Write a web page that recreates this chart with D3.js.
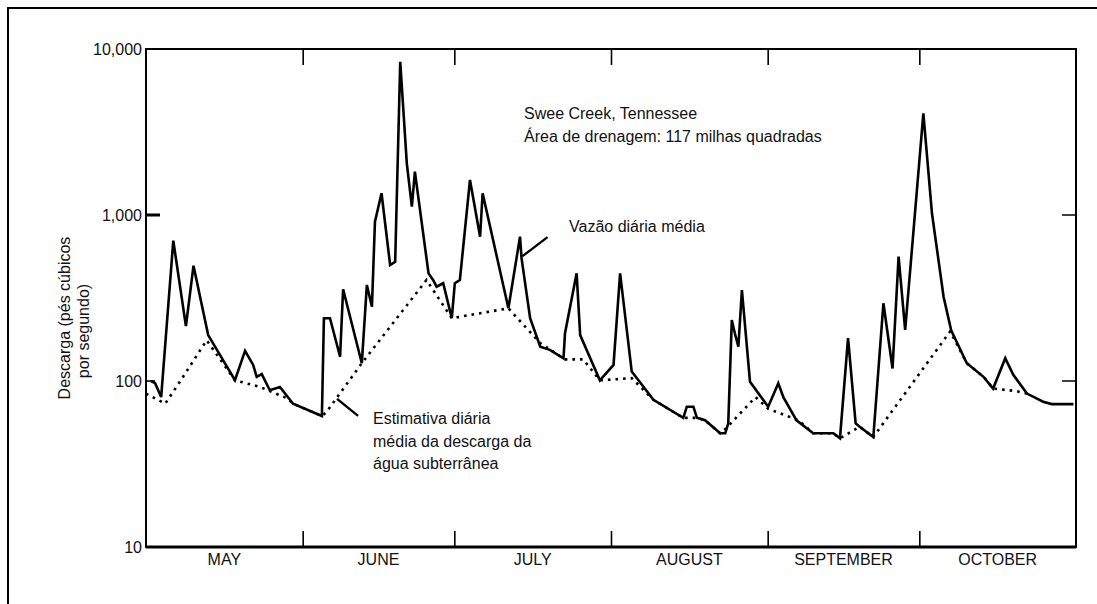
<!DOCTYPE html>
<html>
<head>
<meta charset="utf-8">
<script src="https://cdn.jsdelivr.net/npm/d3@7"></script>
<style>
  body { margin: 0; background: #fff; }
  text { font-family: "Liberation Sans", Arial, sans-serif; fill: #111; }
</style>
</head>
<body>
<script>
const width = 1097;
const height = 604;

// Daily mean streamflow (days after 1 May, cubic feet per second)
const flowDay = [1.0, 1.8, 3.0, 5.4, 7.9, 9.4, 12.3, 17.6, 19.6, 21.2, 21.9, 22.9, 24.5, 26.5, 29.1,
  34.8, 35.2, 36.4, 38.4, 39.0, 42.7, 43.7, 44.7, 45.3, 46.6, 48.3, 49.3, 50.3, 51.6, 52.6, 53.2,
  55.9, 56.8, 57.5, 58.8, 60.5, 61.1, 62.1, 64.1, 66.1, 66.6, 71.7, 74.0, 74.3, 76.0, 78.0, 79.9,
  82.6, 82.9, 85.2, 85.9, 89.8, 92.5, 93.8, 96.1, 100.4, 106.3, 107.0, 108.3, 109.0, 110.6, 113.6,
  114.6, 115.2, 115.9, 116.5, 117.2, 117.9, 119.5, 123.1, 125.1, 126.1, 128.7, 132.0, 136.0, 137.3,
  138.9, 140.4, 141.2, 143.9, 145.9, 147.7, 148.9, 150.2, 153.8, 155.5, 157.8, 159.3, 162.4, 165.7,
  167.6, 170.0, 171.6, 174.3, 177.5, 179.2, 183.5];
const flowCfs = [100, 97, 80, 700, 214, 495, 189, 101, 152, 125, 106, 110, 88, 92, 73,
  61.5, 239, 239, 140, 357, 128, 379, 280, 912, 1352, 500, 523, 8380, 2047, 1122, 1823,
  445, 406, 370, 388, 239, 388, 406, 1625, 740, 1352, 274, 740, 550, 239, 161, 154,
  137, 194, 445, 189, 101, 125, 445, 114, 77, 60, 70, 70, 60, 58, 48.4,
  48.4, 55.6, 233, 194, 161, 353, 99, 70, 97, 80, 58, 48.4, 48.4, 45.2,
  181, 55.6, 53, 46, 294, 119, 561, 203, 4100, 1024, 322, 202, 128, 106,
  90, 137, 109, 84, 75, 72.6, 72.6];

// Estimated daily mean ground-water discharge
const baseDay = [0, 3.8, 6.7, 12.0, 17.6, 22.6, 27.8, 29.1, 34.8, 35.7, 42.7, 55.5, 60.5, 71.7,
  78.0, 82.9, 86.5, 89.8, 96.1, 100.4, 106.3, 109.0, 110.6, 113.6, 114.8, 120.6, 123.1, 129.1,
  132.0, 136.0, 137.3, 141.2, 143.9, 159.1, 162.4, 165.7, 167.6, 172.1, 174.3];
const baseCfs = [84, 73, 99, 176, 101, 92, 79, 73, 61.5, 65, 128, 406, 239, 274,
  169, 135, 135, 101, 104, 77, 60, 60, 58, 48.4, 52, 80, 68, 58,
  48.4, 48.4, 45.2, 53, 46, 199, 128, 106, 90, 87, 84];

const monthNames = ["MAY", "JUNE", "JULY", "AUGUST", "SEPTEMBER", "OCTOBER"];
const yTicks = [10, 100, 1000, 10000];

const start = new Date(Date.UTC(1990, 4, 1));
const end = new Date(Date.UTC(1990, 10, 1));
const toDate = d => new Date(start.getTime() + d * 864e5);

const svg = d3.select("body").append("svg")
  .attr("width", width)
  .attr("height", height);

// outer frame (right and bottom edges lie outside the picture)
svg.append("path")
  .attr("d", `M8,${height} V8 H${width}`)
  .attr("fill", "none").attr("stroke", "#000").attr("stroke-width", 2);

const x = d3.scaleUtc().domain([start, end]).range([146, 1076]);
const y = d3.scaleLog().domain([10, 10000]).range([547, 49]);

const monthStarts = d3.utcMonth.range(start, d3.utcDay.offset(end, 1));
const inner = monthStarts.slice(1, -1);

// plot box
svg.append("rect")
  .attr("x", x.range()[0]).attr("y", y.range()[1])
  .attr("width", x.range()[1] - x.range()[0])
  .attr("height", y.range()[0] - y.range()[1])
  .attr("fill", "none").attr("stroke", "#000").attr("stroke-width", 2);
svg.append("line")
  .attr("x1", x.range()[0]).attr("x2", x.range()[1])
  .attr("y1", y(10)).attr("y2", y(10))
  .attr("stroke", "#000").attr("stroke-width", 3.2);

// month ticks, bottom (upward) and top (downward)
const bottomAxis = svg.append("g")
  .attr("transform", `translate(0,${y(10)})`)
  .call(d3.axisBottom(x).tickValues(inner).tickSize(-16).tickFormat(""));
const topAxis = svg.append("g")
  .attr("transform", `translate(0,${y(10000)})`)
  .call(d3.axisTop(x).tickValues(inner).tickSize(-16).tickFormat(""));
[bottomAxis, topAxis].forEach(g => {
  g.select(".domain").remove();
  g.selectAll(".tick line").attr("stroke", "#000").attr("stroke-width", 1.6);
});

// month labels centred in each month
svg.append("g").selectAll("text")
  .data(monthNames)
  .join("text")
  .attr("x", (d, i) => (x(monthStarts[i]) + x(monthStarts[i + 1])) / 2)
  .attr("y", 565)
  .attr("text-anchor", "middle")
  .attr("font-size", 16)
  .text(d => d);

// y tick labels
svg.append("g").selectAll("text")
  .data(yTicks)
  .join("text")
  .attr("x", 142)
  .attr("y", d => y(d))
  .attr("dy", "0.36em")
  .attr("text-anchor", "end")
  .attr("font-size", 16)
  .text(d => d3.format(",")(d));

// inner ticks at 100 and 1,000
svg.append("line")
  .attr("x1", 146).attr("x2", 160).attr("y1", y(1000)).attr("y2", y(1000))
  .attr("stroke", "#000").attr("stroke-width", 3);
svg.append("line")
  .attr("x1", 146).attr("x2", 155).attr("y1", y(100)).attr("y2", y(100))
  .attr("stroke", "#000").attr("stroke-width", 1.6);
svg.append("g").selectAll("line")
  .data([100, 1000])
  .join("line")
  .attr("x1", 1062).attr("x2", 1076)
  .attr("y1", d => y(d)).attr("y2", d => y(d))
  .attr("stroke", "#000").attr("stroke-width", 1.5);

// y axis title
const yTitle = svg.append("g");
yTitle.append("text")
  .attr("transform", "translate(70,318) rotate(-90)")
  .attr("text-anchor", "middle").attr("font-size", 16)
  .text("Descarga (pés cúbicos");
yTitle.append("text")
  .attr("transform", "translate(89,331) rotate(-90)")
  .attr("text-anchor", "middle").attr("font-size", 16)
  .text("por segundo)");

// series
const line = d3.line()
  .x(d => x(toDate(d[0])))
  .y(d => y(d[1]));

svg.append("path")
  .datum(d3.zip(baseDay, baseCfs))
  .attr("d", line)
  .attr("fill", "none")
  .attr("stroke", "#000")
  .attr("stroke-width", 2.6)
  .attr("stroke-dasharray", "2.6,5");

svg.append("path")
  .datum(d3.zip(flowDay, flowCfs))
  .attr("d", line)
  .attr("fill", "none")
  .attr("stroke", "#000")
  .attr("stroke-width", 2.6)
  .attr("stroke-linejoin", "miter");

// annotations
svg.append("text").attr("x", 524).attr("y", 119).attr("font-size", 16)
  .text("Swee Creek, Tennessee");
svg.append("text").attr("x", 524).attr("y", 142).attr("font-size", 16)
  .text("Área de drenagem: 117 milhas quadradas");

const vx = x(toDate(74.3)), vy = y(550);
svg.append("line")
  .attr("x1", vx + 1).attr("y1", vy - 2).attr("x2", vx + 26).attr("y2", vy - 21)
  .attr("stroke", "#000").attr("stroke-width", 2.4);
svg.append("text").attr("x", 569).attr("y", 232).attr("font-size", 16)
  .text("Vazão diária média");

const ex = x(toDate(37.8)), ey = y(78);
svg.append("line")
  .attr("x1", ex).attr("y1", ey).attr("x2", ex + 21).attr("y2", ey + 17)
  .attr("stroke", "#000").attr("stroke-width", 2.4);
const est = svg.append("text").attr("font-size", 16);
["Estimativa diária", "média da descarga da", "água subterrânea"].forEach((t, i) => {
  est.append("tspan").attr("x", 373).attr("y", 424 + i * 22.5).text(t);
});
</script>
</body>
</html>
